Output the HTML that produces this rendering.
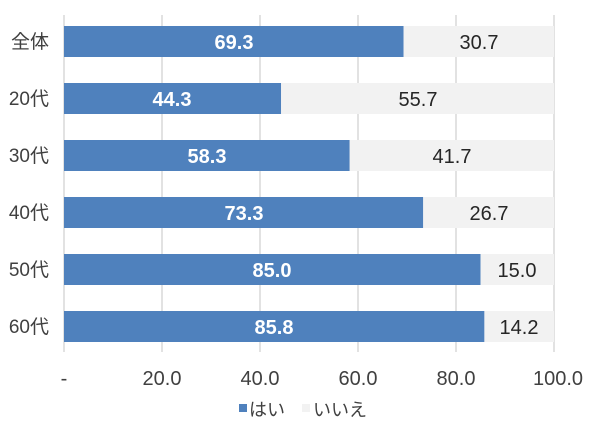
<!DOCTYPE html>
<html><head><meta charset="utf-8"><style>body{margin:0;background:#fff}</style></head><body>
<svg width="600" height="434" xmlns="http://www.w3.org/2000/svg" font-family="'Liberation Sans','Noto Sans CJK JP',sans-serif">
<g stroke="#d9d9d9" stroke-width="1.5">
<line x1="64" y1="15" x2="64" y2="352"/><line x1="162" y1="15" x2="162" y2="352"/><line x1="260" y1="15" x2="260" y2="352"/><line x1="358" y1="15" x2="358" y2="352"/><line x1="456" y1="15" x2="456" y2="352"/><line x1="554" y1="15" x2="554" y2="352"/>
</g>
<g font-size="20" fill="#404040" text-anchor="middle">
<text x="64" y="385">-</text><text x="162" y="385">20.0</text><text x="260" y="385">40.0</text><text x="358" y="385">60.0</text><text x="456" y="385">80.0</text><text x="558" y="385">100.0</text>
</g>
<g font-size="20" text-anchor="middle">
<rect x="64" y="26" width="339.6" height="31" fill="#4f81bd"/><rect x="403.6" y="26" width="150.4" height="31" fill="#f2f2f2"/>
<text x="234" y="49" fill="#fff" font-weight="bold">69.3</text><text x="479" y="49" fill="#262626">30.7</text>
<rect x="64" y="83" width="217.1" height="31" fill="#4f81bd"/><rect x="281.1" y="83" width="272.9" height="31" fill="#f2f2f2"/>
<text x="172" y="106" fill="#fff" font-weight="bold">44.3</text><text x="418" y="106" fill="#262626">55.7</text>
<rect x="64" y="140" width="285.7" height="31" fill="#4f81bd"/><rect x="349.7" y="140" width="204.3" height="31" fill="#f2f2f2"/>
<text x="207" y="163" fill="#fff" font-weight="bold">58.3</text><text x="452" y="163" fill="#262626">41.7</text>
<rect x="64" y="197" width="359.2" height="31" fill="#4f81bd"/><rect x="423.2" y="197" width="130.8" height="31" fill="#f2f2f2"/>
<text x="244" y="220" fill="#fff" font-weight="bold">73.3</text><text x="489" y="220" fill="#262626">26.7</text>
<rect x="64" y="254" width="416.5" height="31" fill="#4f81bd"/><rect x="480.5" y="254" width="73.5" height="31" fill="#f2f2f2"/>
<text x="272" y="277" fill="#fff" font-weight="bold">85.0</text><text x="517" y="277" fill="#262626">15.0</text>
<rect x="64" y="311" width="420.4" height="31" fill="#4f81bd"/><rect x="484.4" y="311" width="69.6" height="31" fill="#f2f2f2"/>
<text x="274" y="334" fill="#fff" font-weight="bold">85.8</text><text x="519" y="334" fill="#262626">14.2</text>
</g>
<g font-size="19" fill="#404040" text-anchor="end">
<text x="49" y="48">全体</text><text x="49" y="105">20代</text><text x="49" y="162">30代</text><text x="49" y="219">40代</text><text x="49" y="276">50代</text><text x="49" y="333">60代</text>
</g>
<rect x="239" y="404" width="8" height="8" fill="#4f81bd"/>
<text x="249" y="416" font-size="18" fill="#404040">はい</text>
<rect x="302" y="404" width="8" height="8" fill="#f2f2f2"/>
<text x="313" y="416" font-size="18" fill="#404040">いいえ</text>
</svg>
</body></html>
